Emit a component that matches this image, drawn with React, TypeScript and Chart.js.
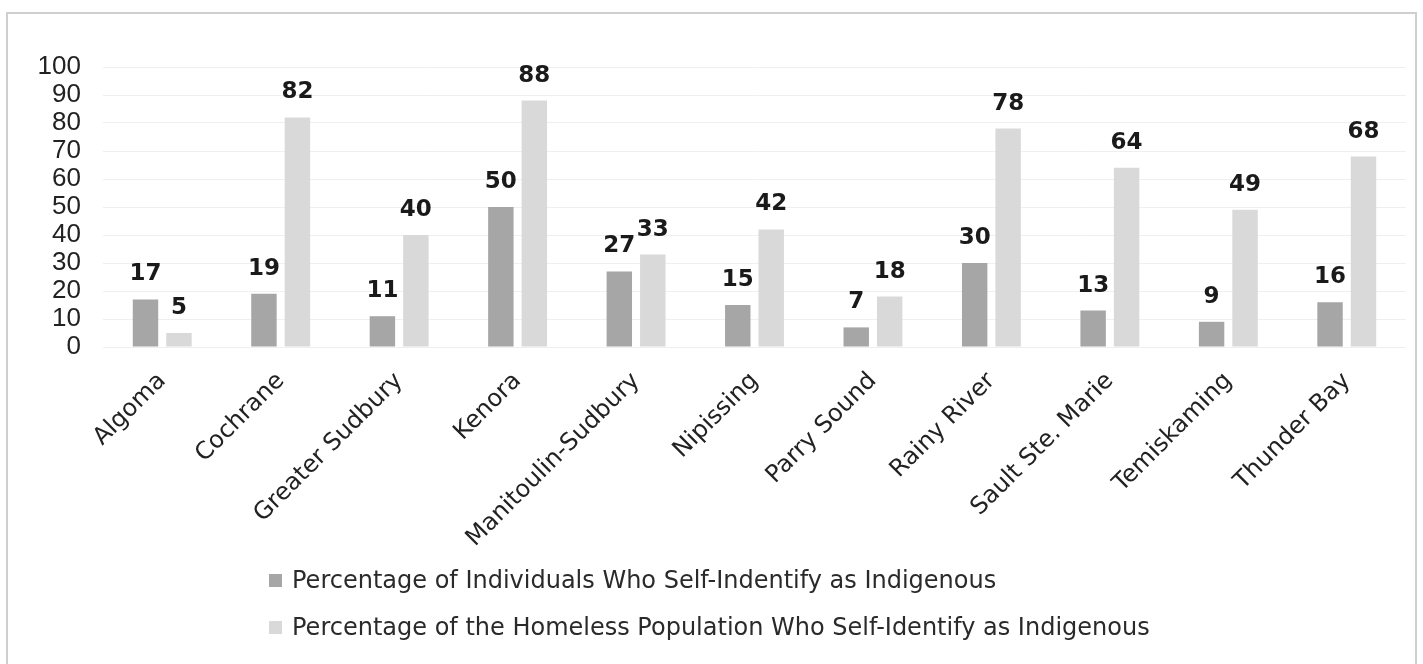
import { useEffect, useRef } from "react";
import { Chart, registerables } from "chart.js";

Chart.register(...registerables);

const categories = [
  "Algoma",
  "Cochrane",
  "Greater Sudbury",
  "Kenora",
  "Manitoulin-Sudbury",
  "Nipissing",
  "Parry Sound",
  "Rainy River",
  "Sault Ste. Marie",
  "Temiskaming",
  "Thunder Bay",
];
const individualsPct = [17, 19, 11, 50, 27, 15, 7, 30, 13, 9, 16];
const homelessPct = [5, 82, 40, 88, 33, 42, 18, 78, 64, 49, 68];
const seriesNames = [
  "Percentage of Individuals Who Self-Indentify as Indigenous",
  "Percentage of the Homeless Population Who Self-Identify as Indigenous",
];
const seriesColors = ["#a6a6a6", "#d9d9d9"];
const yMin = 0;
const yMax = 100;
const yStep = 10;

const valueLabels = {
  id: "valueLabels",
  afterDatasetsDraw(chart: any) {
    const ctx = chart.ctx;
    ctx.save();
    ctx.font = 'bold 23px "DejaVu Sans"';
    ctx.fillStyle = "#1a1a1a";
    ctx.textAlign = "center";
    ctx.textBaseline = "alphabetic";
    chart.data.datasets.forEach((ds: any, i: number) => {
      const meta = chart.getDatasetMeta(i);
      meta.data.forEach((bar: any, j: number) => {
        ctx.fillText(String(ds.data[j]), bar.x, bar.y - 19);
      });
    });
    ctx.restore();
  },
};

export default function App() {
  const canvasRef = useRef<HTMLCanvasElement | null>(null);

  useEffect(() => {
    if (!canvasRef.current) return;
    const chart = new Chart(canvasRef.current, {
      type: "bar",
      data: {
        labels: categories,
        datasets: [
          {
            label: seriesNames[0],
            data: individualsPct,
            backgroundColor: seriesColors[0],
            categoryPercentage: 0.565,
            barPercentage: 0.76,
          },
          {
            label: seriesNames[1],
            data: homelessPct,
            backgroundColor: seriesColors[1],
            categoryPercentage: 0.565,
            barPercentage: 0.76,
          },
        ],
      },
      options: {
        responsive: false,
        animation: false,
        layout: { padding: { left: 0, top: 53, right: 9, bottom: 0 } },
        plugins: {
          legend: { display: false },
          tooltip: { enabled: false },
        },
        scales: {
          x: {
            grid: { display: false, drawTicks: false },
            border: { display: false },
            afterFit: (scale: any) => {
              scale.height = 227;
            },
            ticks: {
              autoSkip: false,
              minRotation: 45,
              maxRotation: 45,
              padding: 20,
              color: "#222",
              font: { family: "DejaVu Sans", size: 24 },
            },
          },
          y: {
            min: yMin,
            max: yMax,
            afterFit: (scale: any) => {
              scale.width = 95;
            },
            grid: { color: "#efefef", lineWidth: 1, drawTicks: false },
            border: { display: false },
            ticks: {
              stepSize: yStep,
              autoSkip: false,
              padding: 22,
              color: "#222",
              font: { family: "Liberation Sans", size: 26 },
            },
          },
        },
      },
      plugins: [valueLabels],
    });
    return () => chart.destroy();
  }, []);

  return (
    <div
      style={{
        position: "absolute",
        left: 6,
        top: 12,
        width: 1407,
        height: 650,
        borderTop: "2px solid #cfcfcf",
        borderLeft: "2px solid #cfcfcf",
        borderRight: "2px solid #cfcfcf",
        background: "#fff",
      }}
    >
      <canvas
        ref={canvasRef}
        width={1407}
        height={560}
        style={{ position: "absolute", left: 0, top: 0 }}
      />
      <div
        style={{
          position: "absolute",
          left: 261,
          top: 551,
          fontFamily: '"DejaVu Sans"',
          fontSize: 24,
          color: "#2a2a2a",
        }}
      >
        {seriesNames.map((name, i) => (
          <div
            key={name}
            style={{ display: "flex", alignItems: "center", height: 30, marginBottom: i === 0 ? 17 : 0 }}
          >
            <span
              style={{
                display: "inline-block",
                width: 13,
                height: 13,
                background: seriesColors[i],
                marginRight: 10,
              }}
            />
            <span style={{ whiteSpace: "nowrap" }}>{name}</span>
          </div>
        ))}
      </div>
    </div>
  );
}
